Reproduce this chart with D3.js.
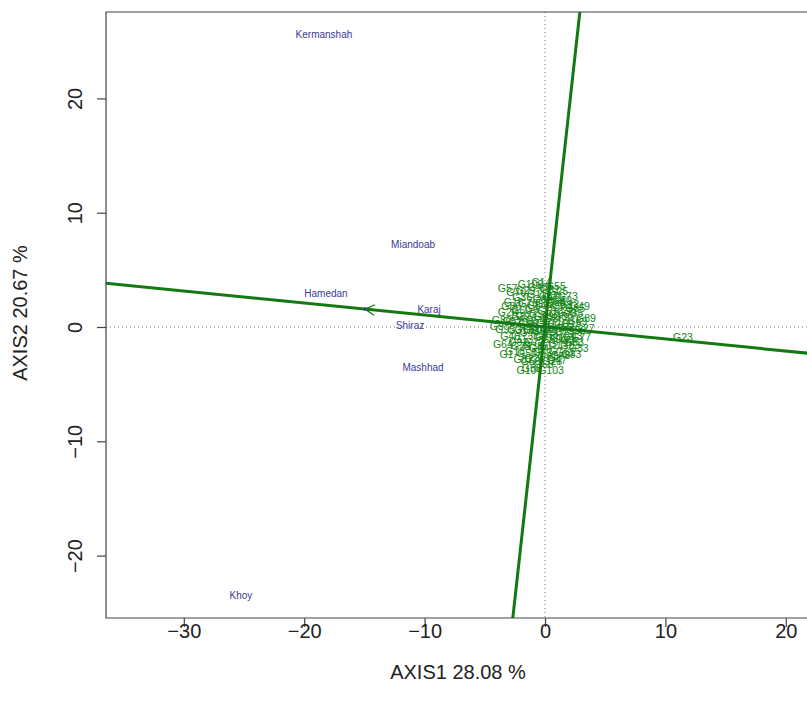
<!DOCTYPE html>
<html><head><meta charset="utf-8">
<script src="https://cdn.jsdelivr.net/npm/d3@7"></script>
<style>body{margin:0;background:#fff;} svg{display:block;font-family:"Liberation Sans",Arial,sans-serif;}</style>
</head><body>
<svg id="c" width="807" height="713"></svg>
<script>
// ---- data ----
const envNames = ["Kermanshah","Miandoab","Hamedan","Karaj","Shiraz","Mashhad","Khoy"];
const envX = [-18.36,-10.96,-18.19,-9.63,-11.21,-10.13,-25.25];
const envY = [25.63,7.26,2.97,1.57,0.09,-3.50,-23.45];
const avgEnv = [-14.95, 1.57];
const genoNames = ["G1","G2","G3","G4","G5","G6","G7","G8","G9","G10","G11","G12","G13","G14","G15","G16","G17","G18","G19","G20",
"G21","G22","G23","G24","G25","G26","G27","G28","G29","G30","G31","G32","G33","G34","G35","G36","G37","G38","G39","G40",
"G41","G42","G43","G44","G45","G46","G47","G48","G49","G50","G51","G52","G53","G54","G55","G56","G57","G58","G59","G60",
"G61","G62","G63","G64","G65","G66","G67","G68","G69","G70","G71","G72","G73","G74","G75","G76","G77","G78","G79","G80",
"G81","G82","G83","G84","G85","G86","G87","G88","G89","G90","G91","G92","G93","G94","G95","G96","G97","G98","G99","G100",
"G101","G102","G103","G104"];
const genoX = [-3.2,0.5,1.9,-1.1,2.6,-0.4,0.9,-2.2,-4.0,1.4,-0.7,0.3,-1.8,-0.3,2.2,-2.6,0.8,-2.5,1.6,-1.4,
0.1,2.0,11.46,-0.9,1.1,-3.1,3.3,0.6,-1.6,1.5,-2.3,0.0,2.8,-0.5,2.5,-1.9,0.4,-1.0,1.8,-2.9,
0.7,-0.2,2.3,-1.3,1.0,-0.6,1.0,1.3,2.9,-1.5,0.2,-2.7,2.1,-0.8,0.9,-1.2,-3.1,-1.1,0.5,-2.0,
1.7,-0.3,2.4,-3.5,1.2,-1.7,0.3,-0.1,2.7,-2.4,0.6,-0.9,1.9,-2.0,0.0,-1.4,3.0,-0.4,1.1,-3.6,
0.4,-1.8,2.2,-0.7,1.6,-2.8,0.8,-0.2,3.4,-1.0,0.2,-2.2,1.4,-0.5,-3.3,0.9,-1.6,2.6,-0.1,-2.0,
1.5,-1.2,0.5,-1.3];
const genoY = [-2.4,0.8,-1.2,1.6,1.2,-0.9,-2.1,0.9,0.1,2.3,2.9,-1.6,-1.1,3.9,0.3,2.2,1.7,-2.1,-0.4,0.2,
0.3,2.0,-0.87,-2.7,3.1,1.3,-0.1,-3.0,3.2,0.9,-0.3,2.1,-1.9,1.1,1.6,2.6,-0.2,-1.7,1.3,-0.8,
2.6,-2.2,-0.8,-0.5,0.0,3.5,-2.9,-2.5,1.8,-2.3,1.4,0.5,-1.6,0.6,3.6,-3.0,3.4,-3.6,-1.1,1.5,
-2.2,-0.4,-1.3,-1.5,1.1,-0.2,2.7,-3.3,0.5,3.0,0.5,-1.3,2.7,-1.7,-0.8,2.1,-0.9,0.0,-1.4,0.6,
3.3,-2.8,-2.4,1.9,0.2,1.8,-0.6,2.4,0.8,-0.2,-2.6,-1.3,1.9,-1.9,-0.2,2.2,0.9,-0.3,0.9,0.4,
-1.0,3.7,-3.8,-3.8];
const xTicks = [-30,-20,-10,0,10,20];
const yTicks = [-20,-10,0,10,20];
const xTitle = "AXIS1 28.08 %";
const yTitle = "AXIS2 20.67 %";

// ---- layout ----
const svg = d3.select("#c");
const L = 106, T = 12, R = 840, B = 618;
const x = d3.scaleLinear().domain([-30,20]).range([183.8,785.8]);
const y = d3.scaleLinear().domain([-20,20]).range([555.6,98.4]);

svg.append("defs").append("clipPath").attr("id","clip")
  .append("rect").attr("x",L).attr("y",T).attr("width",R-L).attr("height",B-T);
const g = svg.append("g").attr("clip-path","url(#clip)");

// dotted reference lines
g.append("line").attr("x1",L).attr("x2",R).attr("y1",y(0)).attr("y2",y(0))
  .attr("stroke","#777").attr("stroke-width",1).attr("stroke-dasharray","1,3");
g.append("line").attr("x1",x(0)).attr("x2",x(0)).attr("y1",T).attr("y2",B)
  .attr("stroke","#777").attr("stroke-width",1).attr("stroke-dasharray","1,3");

// genotype labels
const gCol = "#138613";
g.selectAll("text.geno").data(genoNames).enter().append("text")
  .attr("class","geno")
  .attr("x",(d,i)=>x(genoX[i])).attr("y",(d,i)=>y(genoY[i]))
  .attr("dy","0.35em").attr("text-anchor","middle")
  .attr("font-size",10.5).attr("fill",gCol).text(d=>d);

// environment labels
g.selectAll("text.env").data(envNames).enter().append("text")
  .attr("class","env")
  .attr("x",(d,i)=>x(envX[i])).attr("y",(d,i)=>y(envY[i]))
  .attr("dy","0.35em").attr("text-anchor","middle")
  .attr("font-size",10).attr("fill","#3a3a96").text(d=>d);

// AEA lines
const lCol = "#137913";
const k = 20;
g.append("line")
  .attr("x1",x(avgEnv[0]*k)).attr("y1",y(avgEnv[1]*k))
  .attr("x2",x(-avgEnv[0]*k)).attr("y2",y(-avgEnv[1]*k))
  .attr("stroke",lCol).attr("stroke-width",3);
g.append("line")
  .attr("x1",x(avgEnv[1]*k)).attr("y1",y(-avgEnv[0]*k))
  .attr("x2",x(-avgEnv[1]*k)).attr("y2",y(avgEnv[0]*k))
  .attr("stroke",lCol).attr("stroke-width",3);

// arrow head at average environment
const ax = x(avgEnv[0]), ay = y(avgEnv[1]);
const ang = Math.atan2(ay - y(0), ax - x(0));
const hl = 11, ha = 0.5;
g.append("path")
  .attr("d", `M${ax+hl*Math.cos(ang+Math.PI-ha)},${ay+hl*Math.sin(ang+Math.PI-ha)} L${ax},${ay} L${ax+hl*Math.cos(ang+Math.PI+ha)},${ay+hl*Math.sin(ang+Math.PI+ha)}`)
  .attr("fill","none").attr("stroke",lCol).attr("stroke-width",1.3);
g.append("circle").attr("cx",ax).attr("cy",ay).attr("r",1.8).attr("fill","#3a3a96");

// frame
svg.append("path").attr("d",`M${R},${T} L${L},${T} L${L},${B} L${R},${B}`)
  .attr("fill","none").attr("stroke","#444").attr("stroke-width",1.2);

// axes
const fmt = d=>d<0?"\u2212"+Math.abs(d):d;
const xa = svg.append("g").attr("transform",`translate(0,${B})`)
  .call(d3.axisBottom(x).tickValues(xTicks).tickSize(9).tickPadding(-3).tickFormat(fmt));
xa.select(".domain").remove();
xa.selectAll("line").attr("stroke","#444").attr("stroke-width",1.2);
xa.selectAll("text").attr("font-size",20).attr("font-family","Liberation Sans, Arial, sans-serif").attr("fill","#222");

const ya = svg.append("g").attr("transform",`translate(${L},0)`)
  .call(d3.axisLeft(y).tickValues(yTicks).tickSize(9).tickFormat(fmt));
ya.select(".domain").remove();
ya.selectAll("line").attr("stroke","#444").attr("stroke-width",1.2);
ya.selectAll("text").attr("font-size",20).attr("font-family","Liberation Sans, Arial, sans-serif").attr("fill","#222")
  .attr("text-anchor","middle").attr("x",0)
  .attr("transform","translate(-31,0) rotate(-90)").attr("dy","0.35em");

// titles
svg.append("text").attr("x",458).attr("y",679).attr("text-anchor","middle")
  .attr("font-size",20).attr("fill","#222").text(xTitle);
svg.append("text").attr("transform","translate(27,313) rotate(-90)").attr("text-anchor","middle")
  .attr("font-size",20).attr("fill","#222").text(yTitle);
</script>
</body></html>
